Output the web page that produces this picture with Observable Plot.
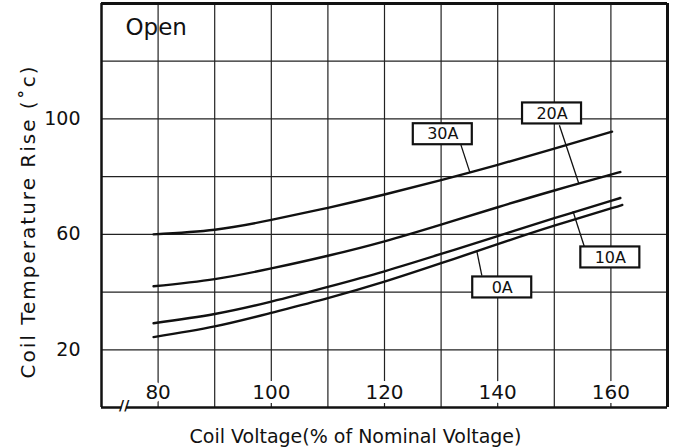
<!DOCTYPE html>
<html>
<head>
<meta charset="utf-8">
<script src="https://cdn.jsdelivr.net/npm/d3@7"></script>
<script src="https://cdn.jsdelivr.net/npm/@observablehq/plot@0.6"></script>
<style>
  html, body { margin: 0; padding: 0; background: #fff; }
</style>
</head>
<body>
<div id="chart"></div>
<script>
// ---- data ----
const currents = ["30A", "20A", "10A", "0A"];

const volt30 = [79.2, 90, 100, 110, 120, 130, 140, 150, 160.2];
const rise30 = [60.0, 61.6, 65.0, 69.2, 73.8, 78.8, 84.1, 89.7, 95.6];

const volt20 = [79.2, 90, 100, 110, 120, 130, 140, 150, 160, 161.5];
const rise20 = [42.0, 44.5, 48.2, 52.6, 57.6, 63.4, 69.4, 75.2, 80.7, 81.5];

const volt10 = [79.2, 90, 100, 110, 120, 130, 140, 150, 160, 161.5];
const rise10 = [29.2, 32.4, 36.7, 41.8, 47.2, 53.2, 59.4, 65.6, 71.6, 72.5];

const volt0 = [79.2, 90, 100, 110, 120, 130, 140, 150, 160, 162];
const rise0 = [24.4, 28.1, 32.8, 37.9, 43.6, 50.0, 56.6, 63.0, 69.0, 70.2];

// label boxes (centre) and leader lines (box end -> curve end)
const labelX = [130.3, 149.6, 159.9, 140.8];
const labelY = [94.7, 101.9, 52.0, 41.6];
const leadX1 = [133.5, 150.9, 155.3, 137.2];
const leadY1 = [91.0, 97.8, 55.8, 45.7];
const leadX2 = [135.1, 154.3, 153.3, 136.3];
const leadY2 = [81.4, 77.8, 68.0, 54.3];

const xTicks = [80, 100, 120, 140, 160];
const yTicks = [20, 60, 100];
const xGrid = [80, 90, 100, 110, 120, 130, 140, 150, 160];
const yGrid = [20, 40, 60, 80, 100, 120];
const xDomain = [70, 170];
const yDomain = [0, 140];
const axisBreak = 74;

const title = "Open";
const xTitle = "Coil Voltage(% of Nominal Voltage)";
const yTitle = "Coil Temperature Rise (˚c)";

// ---- build tables ----
const series = [[volt30, rise30], [volt20, rise20], [volt10, rise10], [volt0, rise0]];
const rows = [];
series.forEach(([vs, rs], i) => vs.forEach((v, j) => rows.push({current: currents[i], v, t: rs[j]})));
const labels = currents.map((c, i) => ({
  c, x: labelX[i], y: labelY[i],
  x1: leadX1[i], y1: leadY1[i], x2: leadX2[i], y2: leadY2[i]
}));

const W = 674, H = 447;
const mL = 101, mR = 7, mT = 3, mB = 40;
const pxX = (W - mL - mR) / (xDomain[1] - xDomain[0]);
const pxY = (H - mT - mB) / (yDomain[1] - yDomain[0]);
const boxW = 59 / pxX / 2, boxH = 21 / pxY / 2;
const font = "DejaVu Sans";

const chart = Plot.plot({
  width: W, height: H,
  marginLeft: mL, marginRight: mR, marginTop: mT, marginBottom: mB,
  x: {domain: xDomain, axis: null},
  y: {domain: yDomain, axis: null},
  style: {fontFamily: font, background: "#fff", color: "#111"},
  marks: [
    // grid
    Plot.ruleX(xGrid, {stroke: "#222", strokeWidth: 1.2}),
    Plot.ruleY(yGrid, {stroke: "#222", strokeWidth: 1.2}),
    // frame
    Plot.ruleX([xDomain[0]], {stroke: "#111", strokeWidth: 2.5}),
    Plot.ruleX([xDomain[1]], {stroke: "#111", strokeWidth: 3}),
    Plot.ruleY([yDomain[1]], {stroke: "#111", strokeWidth: 3}),
    Plot.ruleY([yDomain[0]], {x1: xDomain[0], x2: axisBreak - 0.4, stroke: "#111", strokeWidth: 2.5}),
    Plot.ruleY([yDomain[0]], {x1: axisBreak + 0.4, x2: xDomain[1], stroke: "#111", strokeWidth: 2.5}),
    Plot.text(["//"], {x: axisBreak, frameAnchor: "bottom", dy: 2, fontSize: 14, fill: "#111", fontWeight: "bold"}),
    // curves
    Plot.line(rows, {x: "v", y: "t", z: "current", curve: "natural", stroke: "#111", strokeWidth: 2.4}),
    // leaders
    Plot.link(labels, {x1: "x1", y1: "y1", x2: "x2", y2: "y2", stroke: "#111", strokeWidth: 1.3}),
    // label boxes
    Plot.rect(labels, {x1: d => d.x - boxW, x2: d => d.x + boxW, y1: d => d.y - boxH, y2: d => d.y + boxH,
      fill: "#fff", stroke: "#111", strokeWidth: 2.2}),
    Plot.text(labels, {x: "x", y: "y", text: "c", fontSize: 16, fill: "#111", lineAnchor: "middle"}),
    // x tick labels inside the frame
    Plot.text(xTicks, {x: d => d, frameAnchor: "bottom", dy: -15, text: d => String(d), fontSize: 20,
      fill: "#111", stroke: "#fff", strokeWidth: 8, lineAnchor: "middle"}),
    // y axis
    Plot.axisY(yTicks, {tickSize: 0, tickPadding: 21, fontSize: 19, label: null, fill: "#111"}),
    // title inside frame
    Plot.text([title], {frameAnchor: "top-left", dx: 24, dy: 24, fontSize: 23, textAnchor: "start",
      lineAnchor: "middle", fill: "#111"}),
    // axis titles
    Plot.text([xTitle], {frameAnchor: "bottom", dx: -29, dy: 29, fontSize: 19, textAnchor: "middle",
      lineAnchor: "middle", fill: "#111"}),
    Plot.text([yTitle], {frameAnchor: "left", rotate: -90, dx: -73, dy: 16, fontSize: 20, textAnchor: "middle",
      lineAnchor: "middle", fill: "#111"})
  ]
});

d3.select(chart).selectAll("text").filter(function () { return this.textContent === yTitle; })
  .style("letter-spacing", "2px");
document.getElementById("chart").appendChild(chart);
</script>
</body>
</html>
